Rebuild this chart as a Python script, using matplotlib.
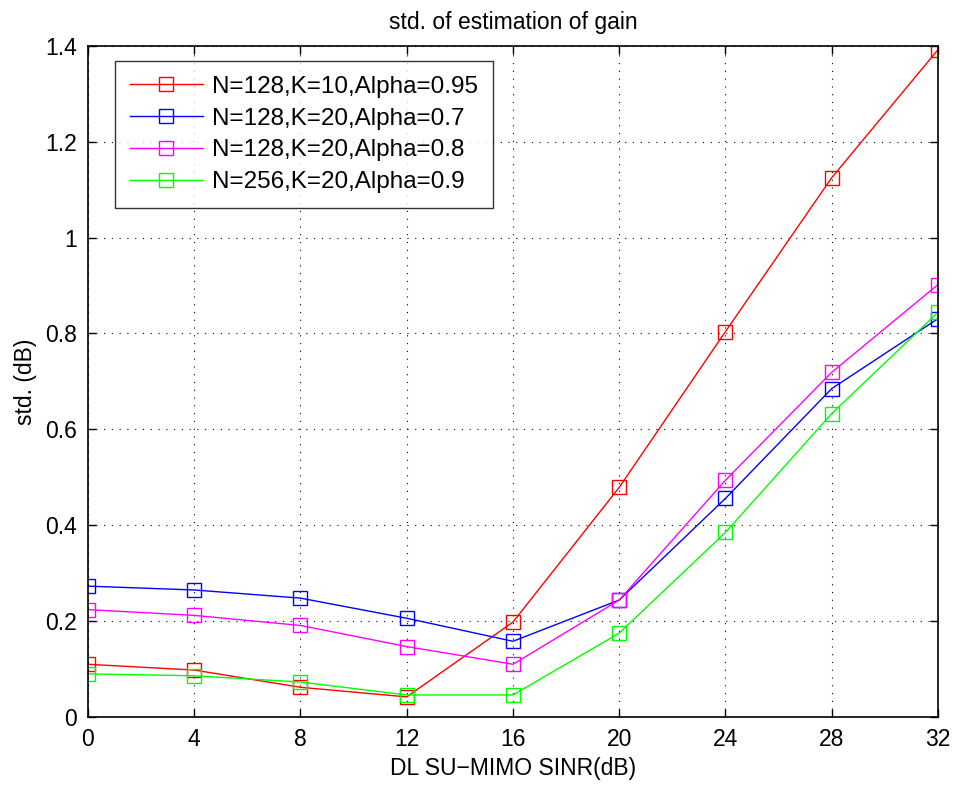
import numpy as np
import matplotlib.pyplot as plt

plt.rcParams['font.family'] = ['Liberation Sans', 'DejaVu Sans']

# SINR points (dB) and std. of gain estimation for each configuration
sinr = [0, 4, 8, 12, 16, 20, 24, 28, 32]
std_n128_k10_a095 = [0.110, 0.098, 0.062, 0.042, 0.198, 0.479, 0.804, 1.125, 1.392]
std_n128_k20_a07 = [0.273, 0.265, 0.248, 0.206, 0.158, 0.244, 0.456, 0.685, 0.831]
std_n128_k20_a08 = [0.224, 0.212, 0.191, 0.147, 0.110, 0.244, 0.494, 0.719, 0.902]
std_n256_k20_a09 = [0.090, 0.086, 0.073, 0.046, 0.046, 0.175, 0.385, 0.633, 0.844]

labels = ['N=128,K=10,Alpha=0.95', 'N=128,K=20,Alpha=0.7',
          'N=128,K=20,Alpha=0.8', 'N=256,K=20,Alpha=0.9']
colors = ['#ff0000', '#0000ff', '#ff00ff', '#00ff00']
series = [std_n128_k10_a095, std_n128_k20_a07, std_n128_k20_a08, std_n256_k20_a09]

fig = plt.figure(figsize=(9.54, 7.85), dpi=100)
ax = fig.add_axes([0.0922, 0.0866, 0.891, 0.855])

for y, c, lab in zip(series, colors, labels):
    ax.plot(sinr, y, color=c, lw=1.0, marker='s', markersize=10,
            markerfacecolor='none', markeredgecolor=c, markeredgewidth=1.0,
            label=lab)

ax.set_xlim(0, 32)
ax.set_ylim(0, 1.4)
ax.set_xticks(np.arange(0, 33, 4))
ax.set_yticks(np.arange(0, 1.41, 0.2))
ax.set_yticklabels(['0', '0.2', '0.4', '0.6', '0.8', '1', '1.2', '1.4'])

ax.grid(True, linestyle=(0, (1, 6)), color='black', linewidth=0.8)
ax.tick_params(direction='in', top=True, right=True, length=6, width=1,
               labelsize=16.5, pad=8)
for sp in ax.spines.values():
    sp.set_linewidth(1.2)

ax.set_title('std. of estimation of gain', fontsize=16.5, pad=12)
ax.set_xlabel('DL SU\u2212MIMO SINR(dB)', fontsize=16.5, labelpad=4)
ax.set_ylabel('std. (dB)', fontsize=16.5, labelpad=6)

leg = ax.legend(loc='upper left', bbox_to_anchor=(0.032, 0.977), fontsize=17.5,
                frameon=True, fancybox=False, edgecolor='black',
                handlelength=3.0, handletextpad=0.4, labelspacing=0.4,
                borderpad=0.6, borderaxespad=0)
leg.get_frame().set_linewidth(1.0)

fig.savefig('out.png', dpi=100)
